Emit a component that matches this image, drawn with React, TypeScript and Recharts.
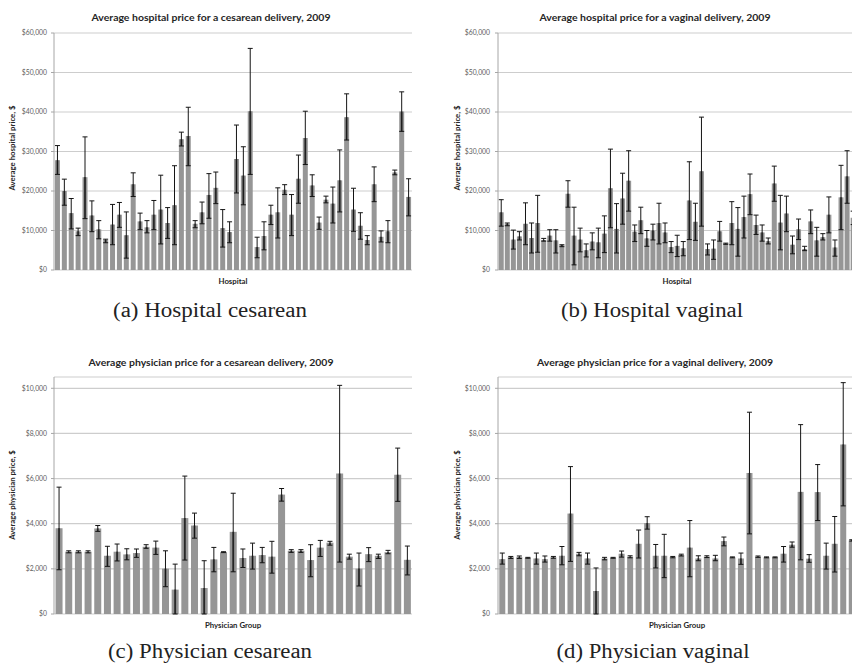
import { BarChart, Bar, XAxis, YAxis, CartesianGrid, ErrorBar } from "recharts";

// hospital price, cesarean (52 hospitals)
const hospCesMean = [27800, 20000, 14400, 9800, 23500, 13800, 10300, 7600, 11500, 14000, 8800, 21700, 12300, 10800, 14000, 15300, 11900, 16400, 33100, 33900, 11700, 14600, 19000, 20800, 10600, 9600, 28100, 23900, 40200, 5800, 8600, 14000, 14600, 20300, 14000, 23100, 33400, 21400, 12000, 17800, 16800, 22700, 38700, 15300, 11200, 7600, 21700, 8400, 9800, 24700, 40100, 18500];
const hospCesLow = [24200, 16400, 10400, 8700, 13000, 9700, 7900, 6900, 6400, 10800, 3000, 18600, 10200, 9400, 10200, 6600, 8000, 6400, 31400, 26400, 10700, 11700, 13100, 16800, 5800, 6900, 19500, 16500, 24200, 3100, 5100, 11500, 8100, 19100, 8700, 16900, 26700, 18600, 10300, 17000, 11900, 14700, 32900, 9800, 7800, 6400, 17300, 7100, 6900, 24100, 35100, 13700];
const hospCesHigh = [31500, 23000, 18100, 10600, 33700, 17500, 12500, 7800, 16600, 17100, 14700, 24600, 14400, 12500, 17600, 24000, 15800, 26400, 34900, 41200, 12500, 17200, 24400, 24800, 15300, 12200, 36700, 31200, 56100, 8300, 12200, 16400, 20800, 21600, 19100, 29100, 40200, 24100, 13400, 18700, 21000, 30400, 44600, 20700, 14500, 8700, 26100, 9900, 12500, 25300, 45100, 23100];

// hospital price, vaginal (59 visible)
const hospVagMean = [14600, 11700, 7700, 8500, 11700, 8100, 11900, 7600, 8700, 7500, 6300, 19300, 8700, 7700, 5000, 7200, 7000, 9200, 20700, 10400, 18100, 22600, 9700, 12600, 8000, 10000, 11900, 9500, 5800, 6100, 5500, 17600, 12200, 25000, 5300, 5400, 9800, 6700, 11900, 10400, 13400, 19200, 11400, 9500, 7300, 21900, 12000, 14300, 6400, 10300, 5300, 12300, 7500, 8300, 14000, 5700, 18400, 23700, 13200];
const hospVagLow = [11100, 11200, 5300, 7600, 6400, 4300, 4500, 7300, 7300, 4300, 5900, 15900, 1300, 4600, 3300, 5100, 3100, 4400, 10700, 4300, 11600, 14900, 7200, 9200, 6000, 7600, 6600, 6900, 4400, 3400, 3600, 7700, 7500, 11100, 3800, 2700, 7300, 6500, 6400, 3500, 8100, 14000, 9000, 7300, 6600, 17400, 5100, 9700, 4100, 7700, 4900, 9200, 3500, 7600, 9400, 3500, 10200, 16900, 11500];
const hospVagHigh = [17800, 11900, 10100, 9700, 17000, 11900, 18900, 8000, 10200, 10200, 6400, 22600, 15900, 10600, 6600, 9400, 10600, 13700, 30600, 16800, 24500, 30200, 11400, 15900, 10000, 11600, 16900, 11900, 7200, 8800, 7200, 27400, 16900, 38700, 6600, 7600, 12300, 6800, 17300, 15800, 18700, 24300, 13900, 11400, 8100, 26300, 18900, 18700, 8600, 12900, 6000, 15200, 10800, 9200, 18500, 7600, 26500, 30200, 14900];

// physician price, cesarean (37 groups)
const physCesMean = [3800, 2760, 2760, 2760, 3790, 2580, 2760, 2640, 2700, 2980, 2940, 2010, 1080, 4250, 3920, 1150, 2420, 2740, 3640, 2480, 2580, 2610, 2540, 5290, 2800, 2800, 2390, 2940, 3160, 6220, 2540, 2010, 2650, 2580, 2740, 6170, 2400];
const physCesLow = [1960, 2710, 2710, 2710, 3660, 2110, 2350, 2400, 2510, 2910, 2640, 1210, 0, 2390, 3360, 0, 1870, 2720, 1870, 2060, 1990, 2270, 1810, 5000, 2730, 2730, 1650, 2550, 3050, 2300, 2430, 1240, 2320, 2460, 2670, 4990, 1730];
const physCesHigh = [5620, 2800, 2800, 2800, 3920, 3000, 3100, 2890, 2880, 3070, 3230, 2800, 2210, 6110, 4470, 2360, 2950, 2760, 5350, 2880, 3140, 2950, 3220, 5560, 2850, 2850, 3070, 3260, 3220, 10130, 2650, 2700, 2940, 2650, 2820, 7350, 3010];

// physician price, vaginal (42 visible)
const physVagMean = [2430, 2520, 2520, 2490, 2460, 2430, 2510, 2580, 4450, 2670, 2460, 1020, 2460, 2490, 2670, 2540, 3110, 4030, 2580, 2580, 2520, 2610, 2940, 2460, 2540, 2460, 3230, 2510, 2460, 6250, 2540, 2510, 2510, 2670, 3070, 5410, 2450, 5400, 2580, 3110, 7510, 3260];
const physVagLow = [2210, 2460, 2460, 2470, 2210, 2300, 2470, 2180, 2330, 2580, 2210, 0, 2400, 2470, 2520, 2490, 2480, 3760, 2040, 1610, 2490, 2570, 1650, 2360, 2500, 2360, 3020, 2490, 2200, 3550, 2510, 2490, 2490, 2300, 2960, 2400, 2290, 4140, 1990, 1860, 4790, 3230];
const physVagHigh = [2700, 2550, 2570, 2510, 2700, 2570, 2550, 2990, 6530, 2730, 2700, 2040, 2510, 2510, 2790, 2580, 3720, 4310, 3080, 3530, 2550, 2650, 4140, 2580, 2580, 2600, 3410, 2530, 2700, 8940, 2570, 2530, 2530, 2990, 3190, 8390, 2630, 6620, 3140, 4320, 10250, 3290];

const hospTicks = [0, 10000, 20000, 30000, 40000, 50000, 60000];
const physTicks = [0, 2000, 4000, 6000, 8000, 10000];

const money = (v: number) => "$" + v.toLocaleString("en-US");

const buildRows = (mean: number[], low: number[], high: number[]) =>
  mean.map((m, i) => ({
    name: `${i + 1}`,
    value: m,
    err: [Math.max(m - low[i], 0), Math.max(high[i] - m, 0)],
    errIn: [Math.max(m - low[i], 0), 0],
  }));

type PanelProps = {
  left: number;
  top: number;
  width: number;
  height: number;
  margin: { top: number; right: number; bottom: number; left: number };
  yWidth: number;
  tickMargin: number;
  rows: any[];
  domain: [number, number];
  ticks: number[];
  gap: string;
};

const Panel = ({ left, top, width, height, margin, yWidth, tickMargin, rows, domain, ticks, gap }: PanelProps) => (
  <div style={{ position: "absolute", left, top }}>
    <BarChart width={width} height={height} data={rows} margin={margin} barCategoryGap={gap}>
      <CartesianGrid vertical={false} stroke="#cdcdcd" strokeWidth={1.2} />
      <XAxis dataKey="name" hide />
      <YAxis
        width={yWidth}
        domain={domain}
        ticks={ticks}
        interval={0}
        allowDataOverflow
        tickFormatter={money}
        tick={{ fontSize: 6.8, fill: "#5e5e5e", fontFamily: "Lato" }}
        tickSize={3}
        tickMargin={tickMargin}
        axisLine={{ stroke: "#a6a6a6" }}
        tickLine={{ stroke: "#a6a6a6" }}
      />
      <Bar dataKey="value" fill="#969696" isAnimationActive={false}>
        <ErrorBar dataKey="errIn" width={0} stroke="#4e4e4e" strokeWidth={2} isAnimationActive={false} />
        <ErrorBar dataKey="err" width={2.5} stroke="#151515" strokeWidth={1} isAnimationActive={false} />
      </Bar>
    </BarChart>
  </div>
);

const titleStyle = { fontFamily: "Lato", fontWeight: 700, fontSize: 9.5, fill: "#262626" };
const axisStyle = { fontFamily: "Lato", fontWeight: 700, fontSize: 7.8, fill: "#262626" };
const capStyle = { fontFamily: "Liberation Serif", fontSize: 20, fill: "#222222" };

export default function App() {
  return (
    <div style={{ position: "absolute", left: 0, top: 0, width: 852, height: 665, overflow: "hidden", background: "#fff" }}>
      <Panel left={0} top={0} width={420} height={290} margin={{ top: 33, right: 8, bottom: 20, left: 0 }} yWidth={54} tickMargin={4}
        rows={buildRows(hospCesMean, hospCesLow, hospCesHigh)} domain={[0, 60000]} ticks={hospTicks} gap="14%" />
      <Panel left={430} top={0} width={430} height={290} margin={{ top: 33, right: 4, bottom: 20, left: 0 }} yWidth={68} tickMargin={5}
        rows={buildRows(hospVagMean, hospVagLow, hospVagHigh)} domain={[0, 60000]} ticks={hospTicks} gap="12%" />
      <Panel left={0} top={330} width={420} height={300} margin={{ top: 47, right: 8, bottom: 16, left: 0 }} yWidth={54} tickMargin={4}
        rows={buildRows(physCesMean, physCesLow, physCesHigh)} domain={[0, 10500]} ticks={physTicks} gap="16%" />
      <Panel left={430} top={330} width={430} height={300} margin={{ top: 47, right: 4, bottom: 16, left: 0 }} yWidth={68} tickMargin={5}
        rows={buildRows(physVagMean, physVagLow, physVagHigh)} domain={[0, 10500]} ticks={physTicks} gap="15%" />

      <svg width={852} height={665} style={{ position: "absolute", left: 0, top: 0, pointerEvents: "none" }}>
        <text x={211} y={21} textAnchor="middle" style={titleStyle} textLength={239} lengthAdjust="spacingAndGlyphs">
          Average hospital price for a cesarean delivery, 2009
        </text>
        <text x={655} y={21} textAnchor="middle" style={titleStyle} textLength={231} lengthAdjust="spacingAndGlyphs">
          Average hospital price for a vaginal delivery, 2009
        </text>
        <text x={211} y={366} textAnchor="middle" style={titleStyle} textLength={245} lengthAdjust="spacingAndGlyphs">
          Average physician price for a cesarean delivery, 2009
        </text>
        <text x={655} y={366} textAnchor="middle" style={titleStyle} textLength={236} lengthAdjust="spacingAndGlyphs">
          Average physician price for a vaginal delivery, 2009
        </text>

        <text transform="translate(15,148) rotate(-90)" textAnchor="middle" style={axisStyle}>Average hospital price, $</text>
        <text transform="translate(460,148) rotate(-90)" textAnchor="middle" style={axisStyle}>Average hospital price, $</text>
        <text transform="translate(15,495) rotate(-90)" textAnchor="middle" style={axisStyle}>Average physician price, $</text>
        <text transform="translate(460,495) rotate(-90)" textAnchor="middle" style={axisStyle}>Average physician price, $</text>

        <text x={233} y={284} textAnchor="middle" style={axisStyle}>Hospital</text>
        <text x={677} y={284} textAnchor="middle" style={axisStyle}>Hospital</text>
        <text x={233} y={628} textAnchor="middle" style={axisStyle}>Physician Group</text>
        <text x={677} y={628} textAnchor="middle" style={axisStyle}>Physician Group</text>

        <text x={210} y={317} textAnchor="middle" style={capStyle} textLength={194} lengthAdjust="spacingAndGlyphs">(a) Hospital cesarean</text>
        <text x={652} y={317} textAnchor="middle" style={capStyle} textLength={182} lengthAdjust="spacingAndGlyphs">(b) Hospital vaginal</text>
        <text x={210} y={658} textAnchor="middle" style={capStyle} textLength={204} lengthAdjust="spacingAndGlyphs">(c) Physician cesarean</text>
        <text x={653} y={658} textAnchor="middle" style={capStyle} textLength={193} lengthAdjust="spacingAndGlyphs">(d) Physician vaginal</text>
      </svg>
    </div>
  );
}
